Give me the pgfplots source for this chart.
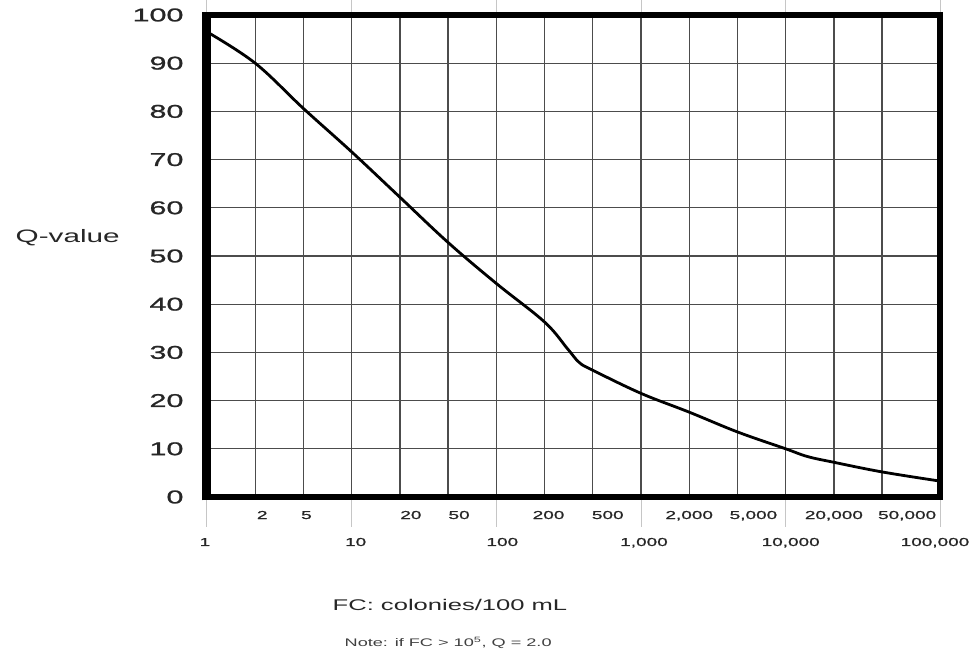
\documentclass[border=0pt]{standalone}
\usepackage{fontspec}
\setmainfont{Liberation Sans}[FakeStretch=1.65]
\newfontfamily\tickfont{Liberation Sans}[FakeStretch=1.65,FakeBold=1.2]
\usepackage{pgfplots}
\pgfplotsset{compat=1.18}
\newcommand\sh[2]{\makebox[0pt]{\hspace*{#1pt}#2}}
\begin{document}
\begin{tikzpicture}[x=1pt,y=1pt]
\path[use as bounding box] (0,0) rectangle (978,654);
\begin{axis}[
  at={(207pt,157pt)}, anchor=south west,
  scale only axis, width=733pt, height=482pt,
  xmin=0, xmax=15.2, ymin=0, ymax=100,
  axis line style={black, line width=1pt},
  /pgf/number format/assume math mode=true,
  grid=major,
  major grid style={black!70, line width=1.3pt},
  tick align=outside,
  major tick length=0pt,
  tick style={draw=gray!45, line width=1pt},
  xtick={1,2,4,5,7,8,10,11,13,14},
  xticklabels={\sh{14}{2},\sh{6}{5},\sh{22}{20},\sh{22}{50},\sh{8}{200},\sh{30}{500},\sh{0}{2,000},\sh{32}{5,000},\sh{0}{20,000},\sh{50}{50,000}},
  xticklabel style={anchor=base, yshift=-22pt, font=\tickfont\fontsize{11.5}{12}\selectfont, text=black!85},
  extra x ticks={0,3,6,9,12,15.2},
  extra x tick labels={\sh{-4}{1},\sh{8}{10},\sh{12}{100},\sh{6}{1,000},\sh{10}{10,000},\sh{-10}{100,000}},
  extra x tick style={grid=major, major tick length=30pt,
     xticklabel style={yshift=3pt}},
  ytick={0,10,...,100},
  yticklabel style={anchor=east, xshift=-20pt, font=\tickfont\fontsize{18.5}{19}\selectfont, text=black!85},
  ylabel={Q-value},
  every axis y label/.style={at={(axis description cs:-0.19,0.539)}, anchor=center, font=\fontsize{18}{18}\selectfont, text=black!85},
  xlabel={FC: colonies/100 mL},
  every axis x label/.style={at={(axis description cs:0.3315,-0.224)}, anchor=center, font=\fontsize{15.5}{16}\selectfont, text=black!85},
  clip=false,
]
\addplot[black, line width=2.8pt, smooth, tension=0.6] coordinates {
 (0,96.5) (1,90) (2,80.6) (3,71.6) (4,62.2) (5,52.8) (6,44.3)
 (7,36.3) (7.48,30.7) (7.72,27.9) (8,26.3) (9,21.5) (10,17.6) (11,13.5) (12,10)
 (12.45,8.4) (13,7.2) (14,5.2) (15.2,3.3)
};
\draw[line width=6.5pt] (rel axis cs:0,0) rectangle (rel axis cs:1,1);
\draw[line width=9pt] (rel axis cs:0,-0.007) -- (rel axis cs:0,1.007);
\node[anchor=center, font=\fontsize{11}{11}\selectfont, text=black!75] at (axis description cs:0.329,-0.303) {Note: if FC > 10\textsuperscript{5}, Q = 2.0};
\end{axis}
\end{tikzpicture}
\end{document}
